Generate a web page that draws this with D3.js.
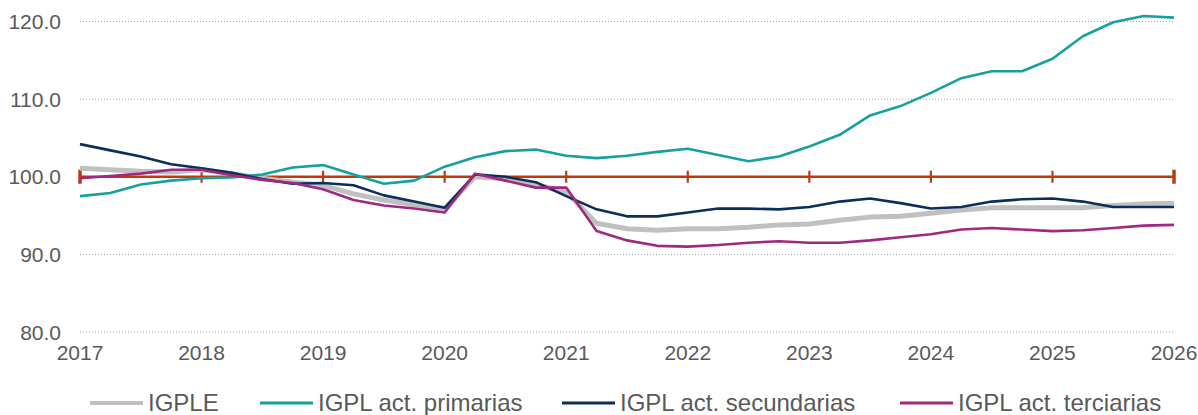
<!DOCTYPE html>
<html>
<head>
<meta charset="utf-8">
<script src="https://cdn.jsdelivr.net/npm/d3@7"></script>
<style>
body { margin:0; background:#fff; }
svg text { font-family: "Liberation Sans", Arial, sans-serif; fill:#595959; }
</style>
</head>
<body>
<svg id="chart" width="1198" height="415"></svg>
<script>
// quarterly points, 2017 Q1 .. 2026
var quarters = d3.range(0, 37).map(function(i){ return 2017 + i/4; });
var years = d3.range(2017, 2027);
var yTicks = [80, 90, 100, 110, 120];

var igple = [101.1,100.9,100.7,100.6,100.9,100.4,99.8,99.3,98.9,97.8,97.0,96.4,95.9,100.0,99.7,99.0,98.0,94.0,93.3,93.1,93.3,93.3,93.5,93.8,93.9,94.4,94.8,94.9,95.3,95.7,96.0,96.0,96.0,96.0,96.3,96.5,96.6];
var primarias = [97.5,97.9,99.0,99.5,99.8,99.9,100.3,101.2,101.5,100.3,99.1,99.5,101.3,102.5,103.3,103.5,102.7,102.4,102.7,103.2,103.6,102.8,102.0,102.6,103.9,105.4,107.9,109.1,110.8,112.7,113.6,113.6,115.2,118.1,119.9,120.7,120.5];
var secundarias = [104.2,103.4,102.6,101.6,101.1,100.5,99.7,99.1,99.2,98.9,97.6,96.8,96.0,100.3,100.0,99.3,97.5,95.8,94.9,94.9,95.4,95.9,95.9,95.8,96.1,96.8,97.2,96.6,95.9,96.1,96.8,97.1,97.2,96.8,96.1,96.1,96.1];
var terciarias = [99.8,100.1,100.4,100.9,100.9,100.2,99.6,99.2,98.4,97.0,96.3,95.9,95.4,100.4,99.5,98.6,98.6,93.0,91.8,91.1,91.0,91.2,91.5,91.7,91.5,91.5,91.8,92.2,92.6,93.2,93.4,93.2,93.0,93.1,93.4,93.7,93.8];
var baseLevel = 100;

var seriesNames = ["IGPLE", "IGPL act. primarias", "IGPL act. secundarias", "IGPL act. terciarias"];
var seriesValues = [igple, primarias, secundarias, terciarias];
var colors = ["#c0c0c0", "#17a0a0", "#0b2f5b", "#a02880"];
var widths = [5, 2.6, 2.6, 2.6];
var legendX = [90, 260, 562, 900];

var svg = d3.select("#chart");
var x = d3.scaleLinear().domain([2017, 2026]).range([80, 1174]);
var y = d3.scaleLinear().domain([80, 120]).range([332, 21.5]);

// grid
svg.append("g").selectAll("line").data(yTicks).enter().append("line")
  .attr("x1", x(2017)).attr("x2", x(2026))
  .attr("y1", function(d){ return y(d); }).attr("y2", function(d){ return y(d); })
  .attr("stroke", "#9aa3ad").attr("stroke-width", 1).attr("stroke-dasharray", "1,2");

// y labels
svg.append("g").selectAll("text").data(yTicks).enter().append("text")
  .attr("x", 61).attr("y", function(d){ return y(d) + 7.5; })
  .attr("text-anchor", "end").style("font-size", "21px")
  .text(function(d){ return d3.format(".1f")(d); });

// x labels
svg.append("g").selectAll("text").data(years).enter().append("text")
  .attr("x", function(d){ return x(d); }).attr("y", 360)
  .attr("text-anchor", "middle").style("font-size", "21px")
  .text(function(d){ return d; });

// base line at 100 with year ticks
var red = "#bf390c";
svg.append("line")
  .attr("x1", x(2017)).attr("x2", x(2026))
  .attr("y1", y(baseLevel)).attr("y2", y(baseLevel))
  .attr("stroke", red).attr("stroke-width", 2.6);
svg.append("g").selectAll("line").data(years).enter().append("line")
  .attr("x1", function(d){ return x(d); }).attr("x2", function(d){ return x(d); })
  .attr("y1", function(d){ return y(baseLevel) - ((d == 2017 || d == 2026) ? 7 : 6); })
  .attr("y2", function(d){ return y(baseLevel) + ((d == 2017 || d == 2026) ? 7 : 6); })
  .attr("stroke", red)
  .attr("stroke-width", function(d){ return (d == 2017 || d == 2026) ? 3.5 : 2.2; });

var line = d3.line()
  .x(function(d, i){ return x(quarters[i]); })
  .y(function(d){ return y(d); });

seriesValues.forEach(function(vals, k){
  svg.append("path").datum(vals)
    .attr("d", line)
    .attr("fill", "none")
    .attr("stroke", colors[k])
    .attr("stroke-width", widths[k])
    .attr("stroke-linejoin", "round");
});

// legend
var leg = svg.append("g");
seriesNames.forEach(function(name, k){
  leg.append("line")
    .attr("x1", legendX[k]).attr("x2", legendX[k] + 53)
    .attr("y1", 403).attr("y2", 403)
    .attr("stroke", colors[k]).attr("stroke-width", k == 0 ? 4 : 3);
  leg.append("text")
    .attr("x", legendX[k] + 58).attr("y", 411)
    .style("font-size", "24px")
    .text(name);
});
</script>
</body>
</html>
